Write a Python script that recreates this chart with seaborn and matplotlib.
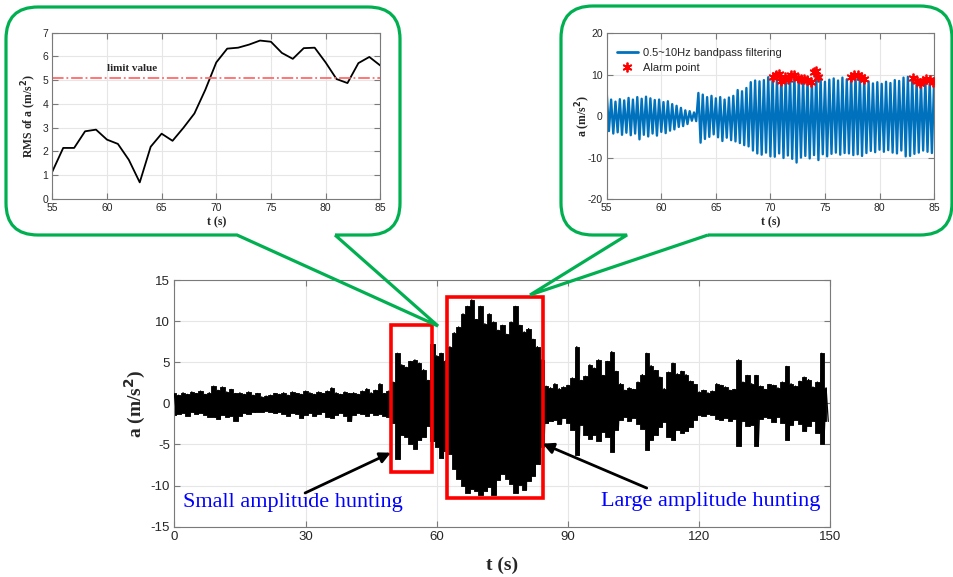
import numpy as np
import pandas as pd
import seaborn as sns
import matplotlib
matplotlib.use("Agg")
import matplotlib.pyplot as plt
from matplotlib.path import Path
from matplotlib.patches import PathPatch, Rectangle
from matplotlib.lines import Line2D

# ---------------------------------------------------------------- data
# Lateral acceleration of the bogie frame, 0-150 s: per-second upper / lower
# swing of the oscillation (upper peak at t, lower peak half a second later).
acc_time = np.arange(150)
acc_upper = [
    1.2, 1.0, 1.3, 1.1, 1.4, 1.2, 1.5, 1.1, 1.3, 2.1,
    1.6, 2.0, 1.4, 1.7, 1.2, 1.3, 1.1, 1.4, 1.0, 1.2,
    0.8, 0.9, 1.0, 1.2, 1.1, 1.3, 1.0, 1.4, 1.2, 1.1,
    1.5, 1.3, 1.1, 1.4, 1.2, 1.5, 1.9, 1.3, 1.1, 1.4,
    1.2, 1.3, 1.1, 1.5, 1.8, 1.3, 1.6, 2.4, 1.2, 1.5,
    2.6, 6.1, 4.7, 4.4, 5.1, 5.3, 4.9, 4.1, 2.8, 7.2,
    5.8, 6.1, 5.2, 6.9, 8.6, 9.3, 10.9, 11.8, 12.6, 10.2,
    11.8, 9.7, 10.9, 9.9, 8.9, 9.5, 8.4, 9.9, 11.8, 9.5,
    8.7, 9.1, 7.8, 6.9, 5.3, 2.1, 1.9, 2.4, 1.8, 2.0,
    2.2, 3.1, 6.9, 2.8, 3.3, 4.7, 4.3, 5.3, 3.4, 5.1,
    6.3, 3.9, 2.4, 1.6, 1.9, 1.7, 2.6, 3.5, 6.1, 4.6,
    4.0, 3.2, 1.8, 3.8, 4.9, 3.6, 3.9, 3.5, 2.7, 2.3,
    1.4, 1.6, 1.3, 1.5, 2.4, 2.2, 2.0, 1.6, 1.7, 5.3,
    2.6, 3.4, 2.4, 3.4, 2.1, 1.7, 2.3, 2.2, 1.9, 2.6,
    4.5, 2.4, 2.1, 2.7, 3.2, 2.9, 2.0, 2.6, 6.1, 1.9,
]
acc_lower = [
    -1.4, -1.3, -1.2, -1.5, -1.1, -1.3, -1.2, -1.4, -1.6, -1.7,
    -1.9, -1.4, -1.6, -1.5, -2.1, -1.5, -1.2, -1.3, -1.1, -1.0,
    -1.0, -0.9, -1.1, -1.2, -1.0, -1.3, -1.5, -1.2, -1.3, -1.8,
    -1.4, -1.2, -1.5, -1.3, -1.1, -1.6, -1.8, -1.4, -1.2, -1.5,
    -2.2, -1.4, -1.2, -1.3, -1.5, -1.2, -1.4, -1.3, -1.5, -1.6,
    -2.4, -6.8, -3.9, -4.1, -4.9, -5.5, -4.5, -4.1, -2.8, -4.6,
    -5.3, -6.7, -5.8, -6.2, -8.0, -9.2, -10.1, -10.9, -10.4, -10.6,
    -11.1, -10.7, -10.2, -11.1, -9.3, -8.6, -9.2, -9.8, -10.9, -9.9,
    -10.5, -9.4, -8.8, -7.4, -5.3, -2.4, -2.2, -2.0, -2.5, -1.8,
    -2.4, -3.2, -6.3, -2.6, -3.9, -4.3, -3.8, -4.6, -3.5, -4.1,
    -5.9, -3.2, -2.0, -1.7, -2.1, -1.8, -2.5, -3.1, -5.7, -4.4,
    -3.9, -2.9, -2.3, -4.1, -4.5, -3.3, -3.6, -3.4, -2.9, -2.0,
    -1.4, -1.5, -1.3, -1.4, -1.9, -2.0, -1.8, -2.1, -1.9, -5.2,
    -2.2, -2.8, -2.6, -5.2, -1.9, -1.6, -1.8, -2.3, -1.6, -2.4,
    -4.5, -2.6, -2.0, -2.5, -3.4, -2.8, -2.2, -3.6, -4.9, -2.2,
]

# RMS of the acceleration over a sliding window, 55-85 s
rms_time = np.arange(55, 86)
rms_value = [
    1.15, 2.15, 2.15, 2.85, 2.92, 2.50, 2.32, 1.65, 0.70, 2.20,
    2.75, 2.45, 3.00, 3.60, 4.60, 5.75, 6.33, 6.37, 6.50, 6.67,
    6.62, 6.15, 5.90, 6.35, 6.37, 5.75, 5.05, 4.88, 5.72, 5.98,
    5.62,
]
rms_limit = 5.1

# 0.5~10 Hz band-passed acceleration, 55-85 s (upper peak at t, lower 0.2 s later)
bp_time = 55 + 0.4 * np.arange(76)
bp_upper = [
    5.5, 4.0, 3.5, 4.1, 3.8, 4.4, 4.0, 4.6, 4.2, 4.7,
    4.3, 3.9, 4.0, 3.4, 3.6, 2.9, 2.5, 2.0, 1.4, 1.2,
    0.9, 5.6, 5.2, 4.6, 4.9, 4.3, 4.6, 4.0, 4.5, 4.9,
    6.3, 6.0, 6.8, 8.2, 8.6, 8.4, 8.7, 9.4, 9.6, 9.1,
    9.7, 9.4, 9.8, 10.0, 9.2, 9.0, 8.7, 8.3, 10.3, 9.4,
    8.3, 8.8, 9.1, 8.6, 9.3, 8.9, 9.5, 9.9, 9.6, 9.0,
    8.4, 7.9, 8.2, 7.8, 8.3, 8.0, 8.7, 8.5, 9.3, 9.5,
    9.3, 8.4, 8.1, 8.7, 8.5, 8.2,
]
bp_lower = [
    -3.6, -4.2, -3.9, -4.5, -4.0, -4.6, -4.2, -5.6, -4.5, -4.9,
    -4.2, -4.7, -3.8, -4.1, -3.5, -3.2, -2.6, -2.4, -1.9, -1.1,
    -1.2, -6.4, -5.5, -5.0, -4.4, -5.1, -6.0, -5.2, -5.8, -6.1,
    -6.5, -7.0, -7.3, -8.3, -9.0, -9.3, -8.8, -9.7, -9.8, -9.0,
    -10.1, -9.5, -10.3, -11.2, -10.0, -9.6, -10.2, -9.4, -10.6, -9.2,
    -9.7, -9.1, -8.8, -9.3, -8.9, -9.0, -9.4, -9.2, -9.6, -8.9,
    -8.4, -8.7, -8.1, -8.6, -8.2, -8.8, -9.0, -8.3, -9.7, -9.6,
    -9.1, -8.8, -8.3, -8.6, -8.9, -8.3,
]

# Alarm points on the band-passed signal
alarm_time = [70.2, 70.5, 70.8, 71.0, 71.3, 71.6, 71.9, 72.2, 72.5, 72.8,
              73.1, 73.4, 73.7, 74.0, 74.2, 74.4, 77.4, 77.7, 78.0, 78.3,
              78.6, 83.1, 83.4, 83.7, 84.0, 84.3, 84.6, 84.9]
alarm_value = [9.4, 9.9, 10.2, 8.6, 9.4, 9.0, 9.9, 10.0, 9.2, 9.0,
               8.9, 8.8, 8.2, 10.6, 11.0, 9.4, 9.4, 10.0, 10.0, 9.5,
               8.9, 9.3, 8.4, 8.1, 8.6, 8.9, 8.7, 8.2]

# Hunting episodes (t_start, t_end, a_low, a_high)
small_hunting = (49.5, 58.8, -8.4, 9.5)
large_hunting = (62.4, 84.2, -11.5, 12.9)


def zigzag(t, upper, lower, half):
    """Interleave upper and lower peaks into one oscillating trace."""
    t = np.asarray(t, float)
    tt = np.column_stack([t, t + half]).ravel()
    yy = np.column_stack([upper, lower]).ravel()
    return pd.DataFrame({"t": tt, "a": yy})


main_df = zigzag(acc_time, acc_upper, acc_lower, 0.5)
bp_df = zigzag(bp_time, bp_upper, bp_lower, 0.2)
rms_df = pd.DataFrame({"t": rms_time, "rms": rms_value})
alarm_df = pd.DataFrame({"t": alarm_time, "a": alarm_value})

# ---------------------------------------------------------------- style
sns.set_theme(style="whitegrid")
plt.rcParams["font.family"] = ["Liberation Sans", "DejaVu Sans"]
plt.rcParams["axes.unicode_minus"] = False
SERIF = ["Liberation Serif", "DejaVu Serif"]
AX_GREY = "#7a7a7a"
GREEN = "#00b050"
BLUE = "#0072bd"


def matlab_axes(a, fs):
    a.set_facecolor("white")
    for s in a.spines.values():
        s.set_visible(True)
        s.set_color(AX_GREY)
        s.set_linewidth(0.8)
    a.tick_params(direction="in", top=True, right=True, length=4, width=0.8,
                  color=AX_GREY, labelsize=fs, labelcolor="#262626", pad=3,
                  bottom=True, left=True)
    a.grid(True, color="#e6e6e6", lw=0.8)
    a.set_axisbelow(True)


fig = plt.figure(figsize=(9.54, 5.77), dpi=100)

# ---------------------------------------------------------------- main axes
ax = fig.add_axes([0.1827, 0.0872, 0.6878, 0.4275])
ax.fill_between(acc_time, acc_lower, acc_upper, step="mid", color="black",
                lw=0.6, zorder=2)
sns.lineplot(data=main_df, x="t", y="a", ax=ax, color="black", lw=0.9,
             estimator=None, sort=False, zorder=3)
ax.set_xlim(0, 150)
ax.set_ylim(-15, 15)
ax.set_xticks(np.arange(0, 151, 30))
ax.set_yticks(np.arange(-15, 16, 5))
matlab_axes(ax, 9.5)
ax.set_xlabel("t (s)", family=SERIF, fontweight="bold", fontsize=14)
ax.set_ylabel("a (m/s$\\mathbf{^2}$)", family=SERIF, fontweight="bold", fontsize=14)
ax.xaxis.set_label_coords(0.5, -0.123)
ax.yaxis.set_label_coords(-0.040, 0.5)

for t0, t1, a0, a1 in (small_hunting, large_hunting):
    ax.add_patch(Rectangle((t0, a0), t1 - t0, a1 - a0, fill=False,
                           ec="#ff0000", lw=2.6, zorder=5, clip_on=False))

arrow = dict(arrowstyle="-|>", color="black", lw=2.0, mutation_scale=16,
             shrinkA=0, shrinkB=0)
ax.annotate("", xy=(small_hunting[0], -6.0), xytext=(29.9, -10.9),
            arrowprops=arrow, zorder=6)
ax.annotate("", xy=(large_hunting[1], -4.9), xytext=(108.0, -10.3),
            arrowprops=arrow, zorder=6)
ax.text(2.0, -12.0, "Small amplitude hunting", color="blue", fontsize=16,
        family=SERIF, ha="left", va="center", zorder=6)
ax.text(97.5, -11.9, "Large amplitude hunting", color="blue", fontsize=16,
        family=SERIF, ha="left", va="center", zorder=6)

# ---------------------------------------------------------------- RMS inset
axL = fig.add_axes([0.0548, 0.6551, 0.3438, 0.2882])
sns.lineplot(data=rms_df, x="t", y="rms", ax=axL, color="black", lw=1.3,
             estimator=None)
axL.axhline(rms_limit, color="#ff6b6b", ls="-.", lw=1.3)
axL.text(62.3, 5.5, "limit value", family=SERIF, fontweight="bold",
         fontsize=8, ha="center", va="center")
axL.set_xlim(55, 85)
axL.set_ylim(0, 7)
axL.set_xticks(np.arange(55, 86, 5))
axL.set_yticks(np.arange(0, 8, 1))
matlab_axes(axL, 7.5)
axL.set_xlabel("t (s)", family=SERIF, fontweight="bold", fontsize=8.5)
axL.set_ylabel("RMS of a (m/s$\\mathbf{^2}$)", family=SERIF, fontweight="bold",
               fontsize=8.5)
axL.xaxis.set_label_coords(0.5, -0.105)
axL.yaxis.set_label_coords(-0.040, 0.5)

# ---------------------------------------------------------------- band-pass inset
axR = fig.add_axes([0.636, 0.6551, 0.3431, 0.2872])
sns.lineplot(data=bp_df, x="t", y="a", ax=axR, color=BLUE, lw=1.7,
             estimator=None, sort=False)
axR.plot(alarm_df["t"], alarm_df["a"], ls="", marker=(6, 2, 0), ms=7,
         mec="#ff0000", mew=1.3, zorder=4)
axR.set_xlim(55, 85)
axR.set_ylim(-20, 20)
axR.set_xticks(np.arange(55, 86, 5))
axR.set_yticks(np.arange(-20, 21, 10))
matlab_axes(axR, 7.5)
axR.set_xlabel("t (s)", family=SERIF, fontweight="bold", fontsize=8.5)
axR.set_ylabel("a (m/s$\\mathbf{^2}$)", family=SERIF, fontweight="bold",
               fontsize=8.5)
axR.xaxis.set_label_coords(0.5, -0.105)
axR.yaxis.set_label_coords(-0.042, 0.5)
handles = [Line2D([], [], color=BLUE, lw=2),
           Line2D([], [], ls="", marker=(6, 2, 0), ms=7, mec="#ff0000", mew=1.3)]
axR.legend(handles, ["0.5~10Hz bandpass filtering", "Alarm point"],
           loc="upper left", bbox_to_anchor=(0.0, 0.97), frameon=False,
           fontsize=8, handlelength=1.9, handletextpad=0.5, labelspacing=0.45)

# ---------------------------------------------------------------- callouts
ov = fig.add_axes([0, 0, 1, 1], zorder=10)
ov.set_xlim(0, 954)
ov.set_ylim(577, 0)
ov.axis("off")
ov.patch.set_alpha(0)


def callout(x0, y0, x1, y1, r, b1, b2, tip):
    M, L, C = Path.MOVETO, Path.LINETO, Path.CURVE3
    verts = [(b2, y1), (x1 - r, y1), (x1, y1), (x1, y1 - r),
             (x1, y0 + r), (x1, y0), (x1 - r, y0),
             (x0 + r, y0), (x0, y0), (x0, y0 + r),
             (x0, y1 - r), (x0, y1), (x0 + r, y1),
             (b1, y1), tip, (b2, y1)]
    codes = [M, L, C, C, L, C, C, L, C, C, L, C, C, L, L, L]
    return PathPatch(Path(verts, codes), fill=False, ec=GREEN, lw=2.3,
                     joinstyle="miter")


ov.add_patch(callout(6, 7, 400, 235, 32, 237, 335, (438, 326)))
ov.add_patch(callout(561, 6, 952, 235, 32, 627, 708, (530, 295)))

fig.savefig("out.png", dpi=100)
